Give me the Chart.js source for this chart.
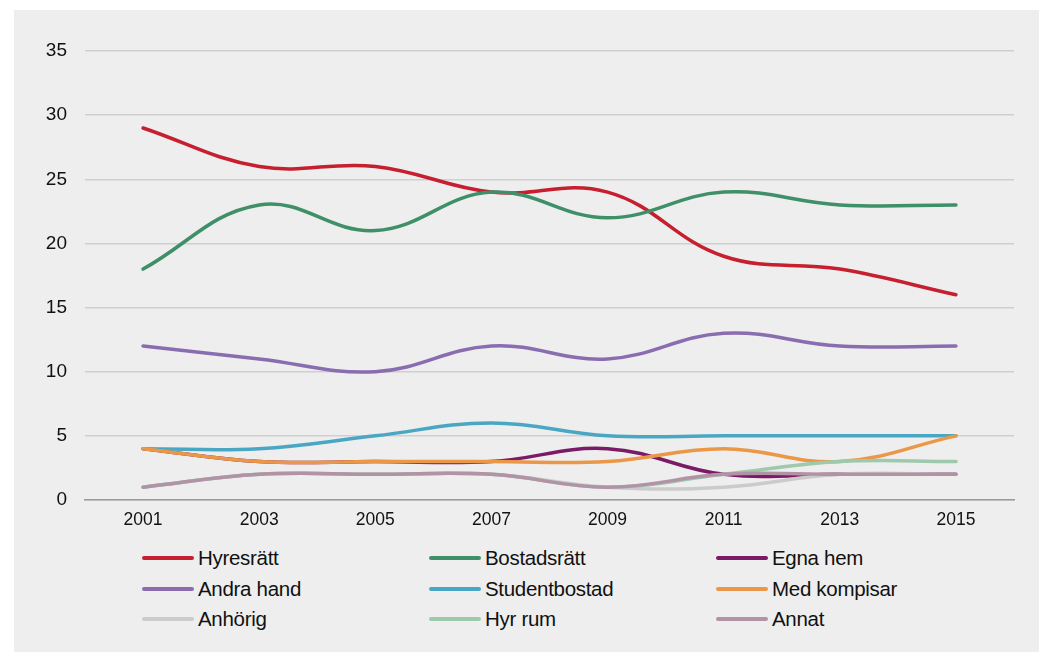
<!DOCTYPE html>
<html lang="sv">
<head>
<meta charset="UTF-8">
<title>Boendeform 2001–2015</title>
<script src="https://cdn.jsdelivr.net/npm/chart.js"></script>
<style>
    body { margin: 0; background: #ffffff; width: 1040px; height: 652px; overflow: hidden; position: relative; }
    .panel { position: absolute; left: 14px; top: 10px; width: 1025px; height: 642px; background: #eeeeee; }
    .chart-box { position: absolute; left: 0; top: 0; width: 1025px; height: 530px; }
    .legend { position: absolute; left: 128px; top: 533px; display: grid; grid-template-columns: 287px 287px 287px; grid-auto-rows: 30.5px; }
    .legend div { display: flex; align-items: center; font-family: "Liberation Sans", sans-serif; font-size: 20.5px; color: #111; letter-spacing: -0.3px; }
    .legend span { display: inline-block; width: 52px; height: 4px; border-radius: 2px; margin-right: 4px; }
</style>
</head>
<body>
<div class="panel">
    <div class="chart-box"><canvas id="chart"></canvas></div>
    <div class="legend" id="legend"></div>
</div>
<script>
    const years = ['2001', '2003', '2005', '2007', '2009', '2011', '2013', '2015'];

    const hyresratt     = [29, 26, 26, 24, 24, 19, 18, 16];
    const bostadsratt   = [18, 23, 21, 24, 22, 24, 23, 23];
    const egnaHem       = [4, 3, 3, 3, 4, 2, 2, 2];
    const andraHand     = [12, 11, 10, 12, 11, 13, 12, 12];
    const studentbostad = [4, 4, 5, 6, 5, 5, 5, 5];
    const medKompisar   = [4, 3, 3, 3, 3, 4, 3, 5];
    const anhorig       = [1, 2, 2, 2, 1, 1, 2, 2];
    const hyrRum        = [1, 2, 2, 2, 1, 2, 3, 3];
    const annat         = [1, 2, 2, 2, 1, 2, 2, 2];

    const yTicks = [0, 5, 10, 15, 20, 25, 30, 35];

    const series = [
        { label: 'Hyresrätt', data: hyresratt, color: '#c61f2f' },
        { label: 'Bostadsrätt', data: bostadsratt, color: '#3f8f68' },
        { label: 'Egna hem', data: egnaHem, color: '#7b1a66' },
        { label: 'Andra hand', data: andraHand, color: '#8a6cb0' },
        { label: 'Studentbostad', data: studentbostad, color: '#4aa7c3' },
        { label: 'Med kompisar', data: medKompisar, color: '#eb9748' },
        { label: 'Anhörig', data: anhorig, color: '#cbcbcb' },
        { label: 'Hyr rum', data: hyrRum, color: '#9fc9ad' },
        { label: 'Annat', data: annat, color: '#b293a6' }
    ];

    // later series are drawn on top
    const datasets = series.map((s, i) => ({
        label: s.label,
        data: s.data,
        borderColor: s.color,
        backgroundColor: s.color,
        borderWidth: 3.5,
        borderCapStyle: 'round',
        pointRadius: 0,
        tension: 0.4,
        fill: false,
        order: series.length - i
    }));

    new Chart(document.getElementById('chart'), {
        type: 'line',
        data: { labels: years, datasets: datasets },
        options: {
            responsive: true,
            maintainAspectRatio: false,
            animation: false,
            layout: { padding: { top: 41, right: 25, left: 0, bottom: 0 } },
            plugins: { legend: { display: false }, tooltip: { enabled: false } },
            scales: {
                x: {
                    offset: true,
                    grid: { display: false, drawTicks: false },
                    border: { color: '#9a9a9a', width: 1.5 },
                    ticks: { color: '#111', padding: 10, font: { family: 'Liberation Sans', size: 17.5 } },
                    afterFit: scale => { scale.height = 40; }
                },
                y: {
                    min: 0,
                    max: 35,
                    afterBuildTicks: scale => { scale.ticks = yTicks.map(v => ({ value: v })); },
                    grid: { color: '#cfcfcf', lineWidth: 1.5, drawTicks: false },
                    border: { display: false },
                    ticks: { color: '#111', padding: 18, font: { family: 'Liberation Sans', size: 19 } },
                    afterFit: scale => { scale.width = 71; }
                }
            }
        }
    });

    // legend in three fixed columns
    const legend = document.getElementById('legend');
    series.forEach(s => {
        const item = document.createElement('div');
        item.innerHTML = `<span style="background:${s.color}"></span>${s.label}`;
        legend.appendChild(item);
    });
</script>
</body>
</html>
